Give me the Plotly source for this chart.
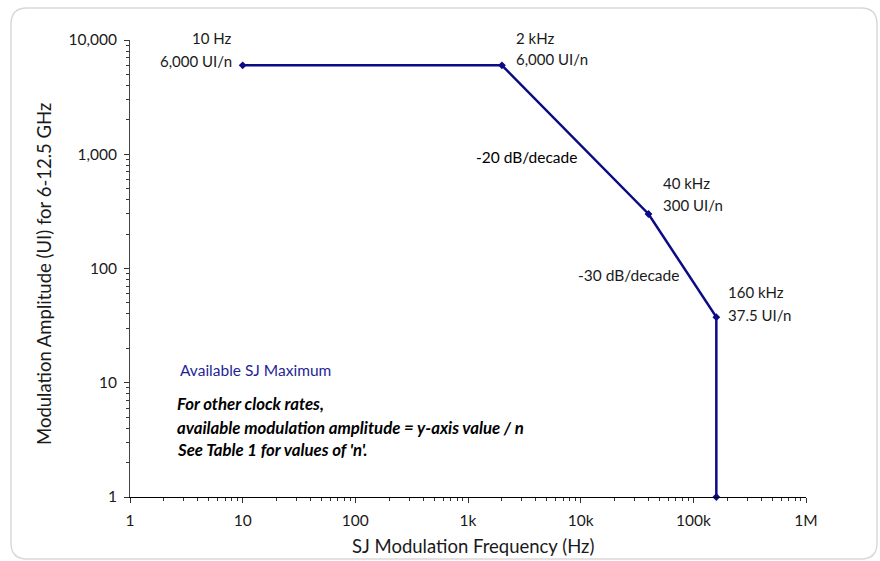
import plotly.graph_objects as go

# ---- data ----
freq_hz = [10, 2000, 40000, 160000, 160000]
amp_ui = [6000, 6000, 300, 37.5, 1]
x_tickvals = [1, 10, 100, 1000, 10000, 100000, 1000000]
x_ticktext = ["1", "10", "100", "1k", "10k", "100k", "1M"]
y_tickvals = [1, 10, 100, 1000, 10000]
y_ticktext = ["1", "10", "100", "1,000", "10,000"]

W, H = 880, 561
L, R, T, B = 130, 806, 40, 497
FONT = "Lato"
NAVY = "#0b0b86"
TXT = "#1a1a1a"


def px(x):
    return (x - L) / (R - L)


def py(y):
    return (B - y) / (B - T)


fig = go.Figure()
fig.add_trace(go.Scatter(
    x=freq_hz, y=amp_ui, mode="lines+markers",
    line=dict(color=NAVY, width=2.5),
    marker=dict(symbol="diamond", size=6, color=NAVY),
    cliponaxis=False, showlegend=False, hoverinfo="x+y",
))

annots = []


def add(text, x, y, anchor="left", color=TXT, size=15, angle=0, **kw):
    annots.append(dict(text=text, x=px(x), y=py(y), xref="paper", yref="paper",
                       xanchor=anchor, yanchor="middle", showarrow=False, textangle=angle,
                       font=dict(family=FONT, size=size, color=color), **kw))


add("10 Hz", 234, 38, "right")
add("6,000 UI/n", 234, 61, "right")
add("2 kHz", 514, 38)
add("6,000 UI/n", 514, 59)
add("-20 dB/decade", 474, 157, color="#000000", size=15.5)
add("40 kHz", 661, 183)
add("300 UI/n", 661, 205)
add("-30 dB/decade", 576, 275, size=15.5)
add("160 kHz", 726, 292)
add("37.5 UI/n", 726, 315)
add("Available SJ Maximum", 178, 370, color="#1f1f9a", size=15.5)
add("<b><i>For other clock rates,</i></b>", 175, 403, color="#000000", size=16.8)
add("<b><i>available modulation amplitude = y-axis value / n</i></b>", 175, 427, color="#000000", size=16.8)
add("<b><i>See Table 1 for values of 'n'.</i></b>", 175, 449, color="#000000", size=16.8)
# axis titles
add("SJ Modulation Frequency (Hz)", 473, 546, "center", size=18.5)
add("Modulation Amplitude (UI) for 6-12.5 GHz", 44, 274, "center", size=18.5, angle=-90)

# rounded border
x0, y0, x1, y1, r = 11, 8, 877, 559, 16
path = (f"M {px(x0 + r)},{py(y0)} L {px(x1 - r)},{py(y0)} Q {px(x1)},{py(y0)} {px(x1)},{py(y0 + r)} "
        f"L {px(x1)},{py(y1 - r)} Q {px(x1)},{py(y1)} {px(x1 - r)},{py(y1)} "
        f"L {px(x0 + r)},{py(y1)} Q {px(x0)},{py(y1)} {px(x0)},{py(y1 - r)} "
        f"L {px(x0)},{py(y0 + r)} Q {px(x0)},{py(y0)} {px(x0 + r)},{py(y0)} Z")

fig.update_layout(
    width=W, height=H,
    margin=dict(l=L, r=W - R, t=T, b=H - B),
    paper_bgcolor="white", plot_bgcolor="white",
    font=dict(family=FONT, size=15, color=TXT),
    annotations=annots,
    shapes=[dict(type="path", path=path, xref="paper", yref="paper",
                 line=dict(color="#d9d9d9", width=1.5), layer="below")],
    xaxis=dict(
        type="log", range=[0, 6], tickvals=x_tickvals, ticktext=x_ticktext,
        showgrid=False, zeroline=False, showline=True, linecolor="#000000", linewidth=1.2,
        ticks="outside", ticklen=5, tickcolor="#333333",
        minor=dict(ticks="outside", ticklen=3, dtick="D1", tickcolor="#333333", showgrid=False),
        tickfont=dict(size=15.5), ticklabelstandoff=4,
    ),
    yaxis=dict(
        type="log", range=[0, 4], tickvals=y_tickvals, ticktext=y_ticktext,
        showgrid=False, zeroline=False, showline=True, linecolor="#444444", linewidth=1,
        ticks="outside", ticklen=5, tickcolor="#333333",
        minor=dict(ticks="outside", ticklen=3, dtick="D1", tickcolor="#333333", showgrid=False),
        tickfont=dict(size=15.5), ticklabelstandoff=4,
    ),
)

fig.write_html("out.html")
